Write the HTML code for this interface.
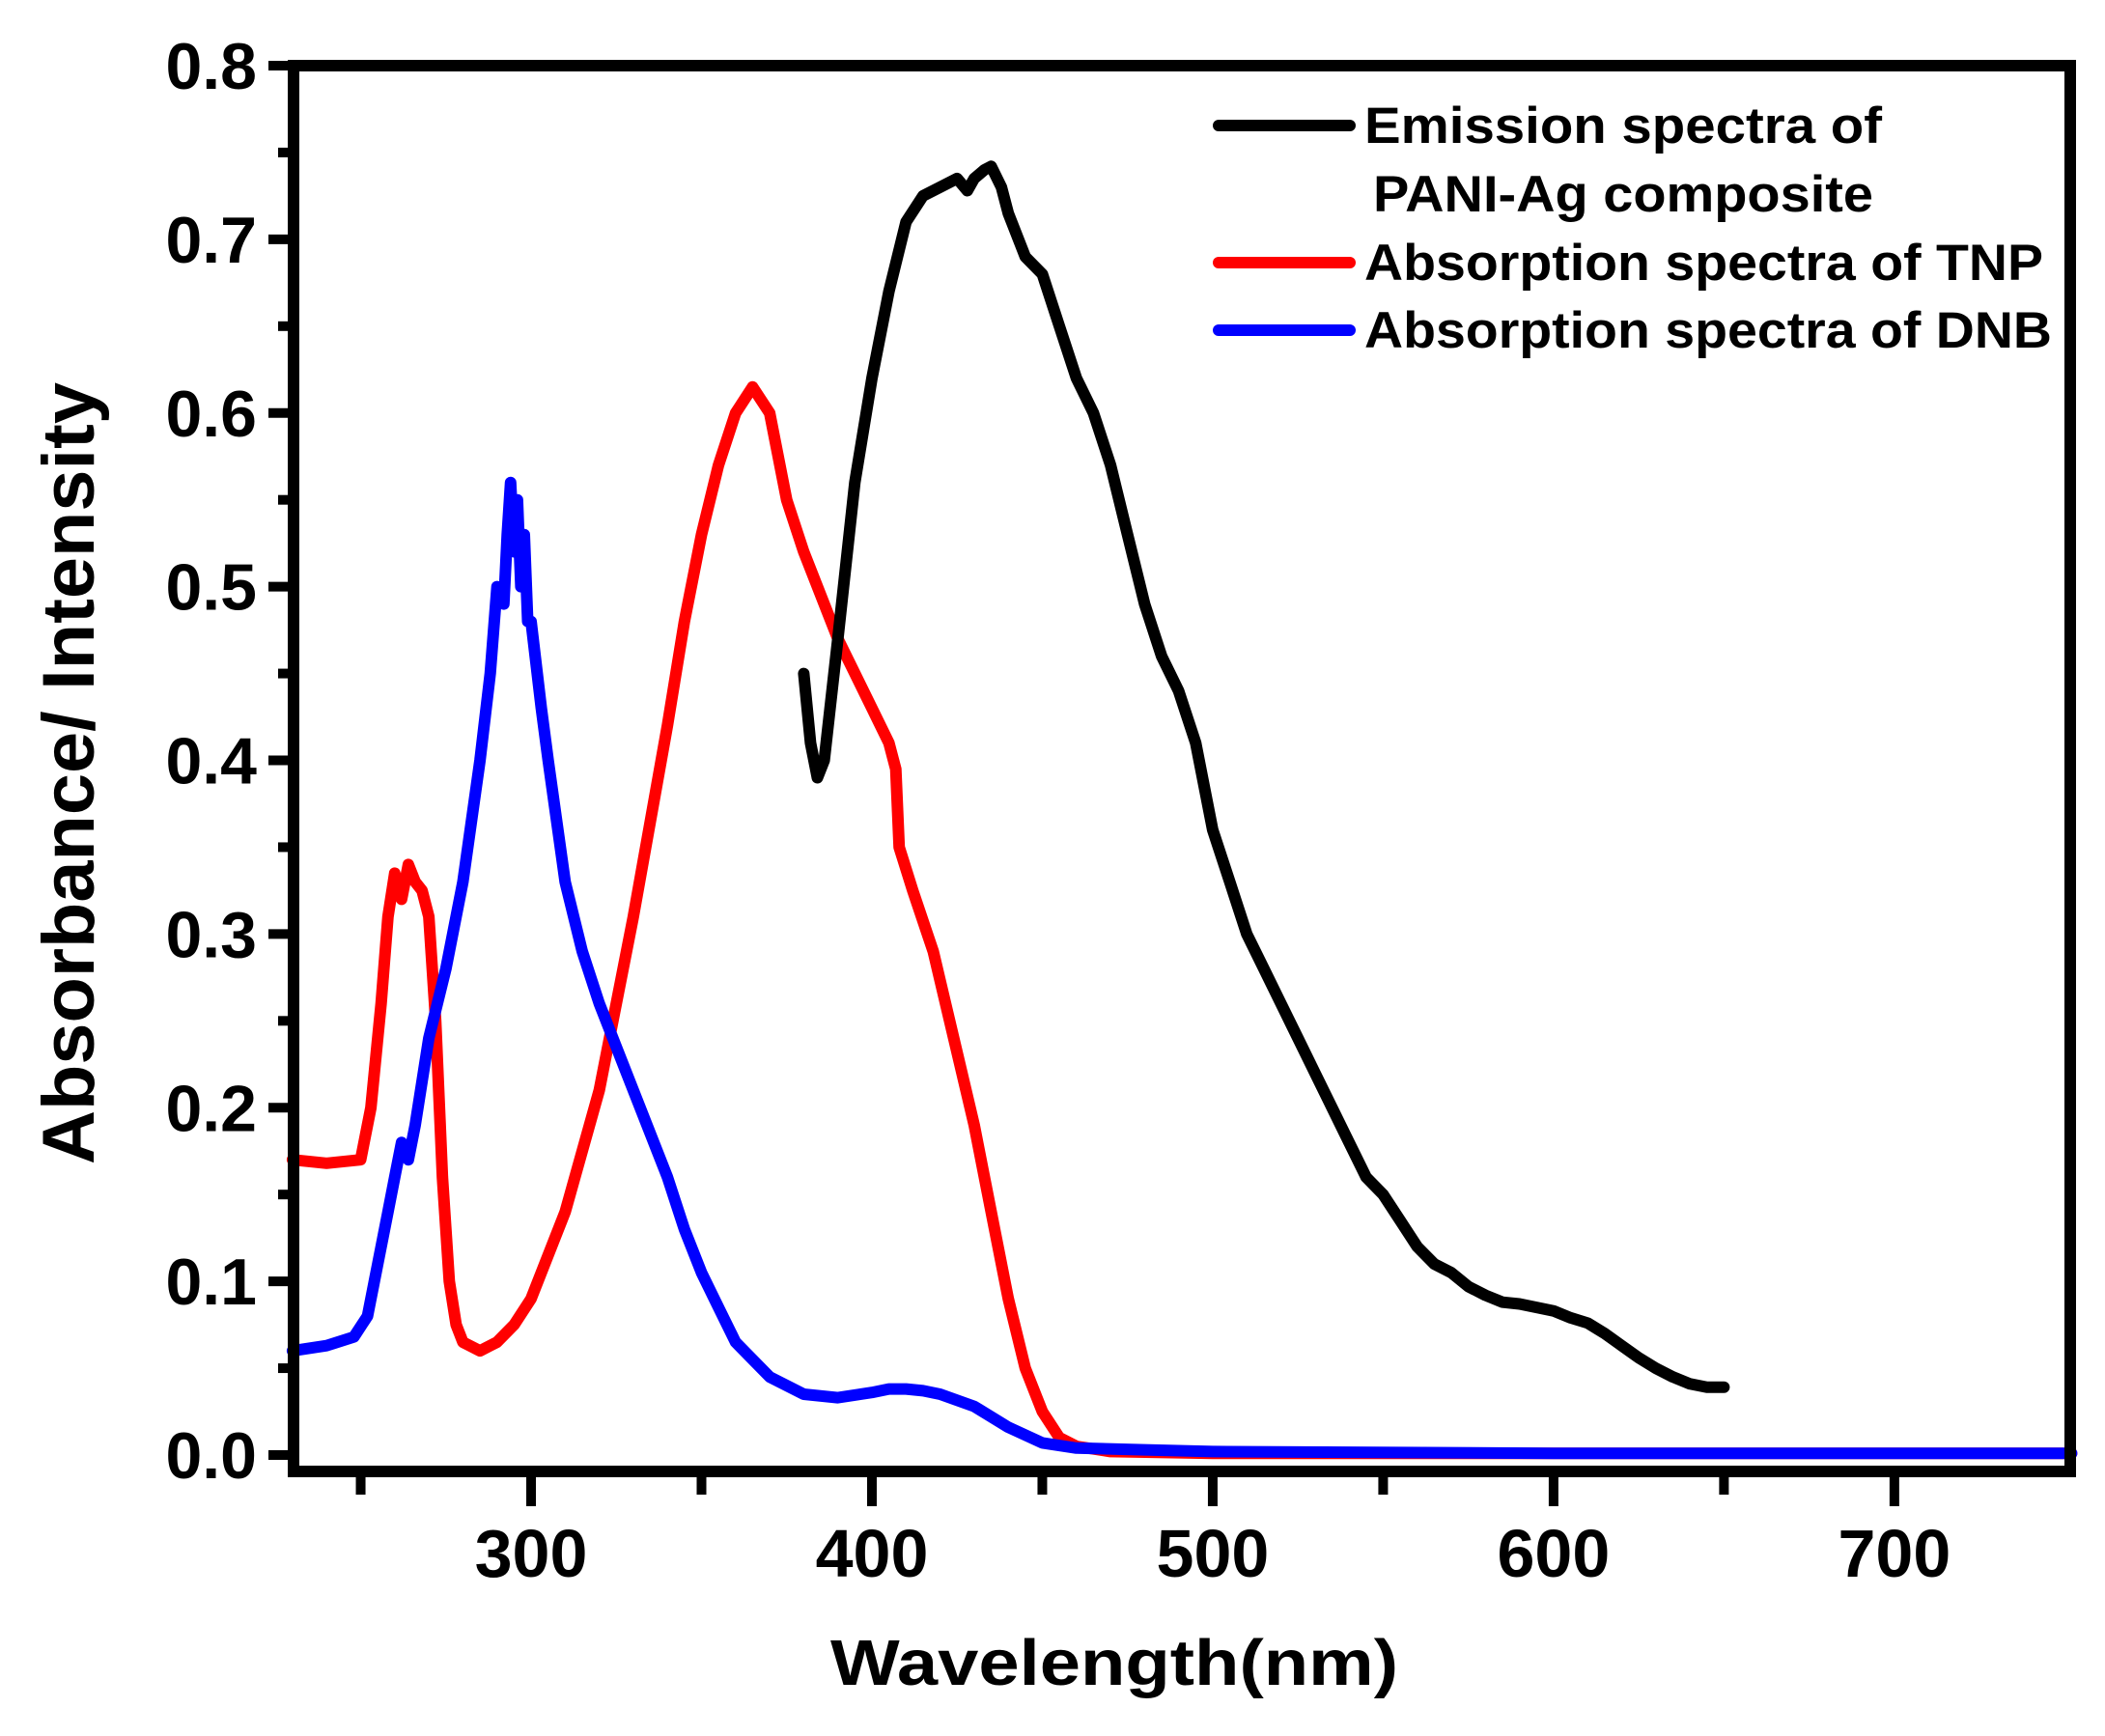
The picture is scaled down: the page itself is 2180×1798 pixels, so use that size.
<!DOCTYPE html>
<html><head><meta charset="utf-8"><style>
html,body{margin:0;padding:0;background:#fff;}
svg{display:block;font-family:"Liberation Sans",Arial,sans-serif;font-weight:bold;}
</style></head><body>
<svg id="chart" width="2180" height="1798" viewBox="0 0 2180 1798" xmlns="http://www.w3.org/2000/svg">
<g id="plot"></g>
<g id="axes"></g>
<text x="1154" y="1745" font-size="67" text-anchor="middle" textLength="588" lengthAdjust="spacingAndGlyphs">Wavelength(nm)</text>
<text transform="translate(97,801) rotate(-90)" font-size="76" text-anchor="middle" textLength="810" lengthAdjust="spacingAndGlyphs">Absorbance/ Intensity</text>
<g>
<g>
<line x1="1262" y1="130" x2="1398" y2="130" stroke="#000" stroke-width="12" stroke-linecap="round"/>
<text x="1413" y="148" font-size="53" textLength="536" lengthAdjust="spacingAndGlyphs">Emission spectra of</text>
<text x="1422" y="219" font-size="53" textLength="518" lengthAdjust="spacingAndGlyphs">PANI-Ag composite</text>
</g>
<g>
<line x1="1262" y1="272" x2="1398" y2="272" stroke="#ff0000" stroke-width="12" stroke-linecap="round"/>
<text x="1413" y="290" font-size="53" textLength="703" lengthAdjust="spacingAndGlyphs">Absorption spectra of TNP</text>
</g>
<g>
<line x1="1262" y1="342" x2="1398" y2="342" stroke="#0000ff" stroke-width="12" stroke-linecap="round"/>
<text x="1413" y="360" font-size="53" textLength="712" lengthAdjust="spacingAndGlyphs">Absorption spectra of DNB</text>
</g>
</g>
</svg>
<script>
const emX=[380,382,384,386,390,395,400,405,410,415,420,425,428,430,433,435,438,440,445,450,455,460,465,470,475,480,485,490,495,500,505,510,515,520,525,530,535,540,545,550,555,560,565,570,575,580,585,590,595,600,605,610,615,620,625,630,635,640,645,650];
const emY=[0.45,0.41,0.39,0.40,0.47,0.56,0.62,0.67,0.71,0.725,0.73,0.735,0.728,0.735,0.74,0.742,0.73,0.715,0.69,0.68,0.65,0.62,0.60,0.57,0.53,0.49,0.46,0.44,0.41,0.36,0.33,0.30,0.28,0.26,0.24,0.22,0.20,0.18,0.16,0.15,0.135,0.12,0.11,0.105,0.097,0.092,0.088,0.087,0.085,0.083,0.079,0.076,0.07,0.063,0.056,0.05,0.045,0.041,0.039,0.039];
const tnpX=[230,240,250,253,256,258,260,262,264,266,268,270,272,274,276,278,280,285,290,295,300,310,320,330,340,345,350,355,360,365,370,375,380,390,400,405,407,408,412,418,424,430,435,440,445,450,455,460,470,500,600,752];
const tnpY=[0.17,0.168,0.17,0.2,0.26,0.31,0.335,0.32,0.34,0.33,0.325,0.31,0.25,0.16,0.1,0.075,0.065,0.06,0.065,0.075,0.09,0.14,0.21,0.31,0.42,0.48,0.53,0.57,0.6,0.615,0.6,0.55,0.52,0.47,0.43,0.41,0.395,0.35,0.325,0.29,0.24,0.19,0.14,0.09,0.05,0.025,0.01,0.005,0.002,0.001,0.001,0.001];
const dnbX=[230,240,248,252,255,258,260,262,264,266,270,275,280,285,288,290,292,293,294,295,296,297,298,299,300,303,305,310,315,320,330,340,345,350,355,360,370,380,390,400,405,410,415,420,430,440,450,460,480,500,600,752];
const dnbY=[0.06,0.063,0.068,0.08,0.11,0.14,0.16,0.18,0.17,0.19,0.24,0.28,0.33,0.40,0.45,0.50,0.49,0.53,0.56,0.52,0.55,0.50,0.53,0.48,0.48,0.43,0.40,0.33,0.29,0.26,0.21,0.16,0.13,0.105,0.085,0.065,0.045,0.035,0.033,0.036,0.038,0.038,0.037,0.035,0.028,0.016,0.007,0.004,0.003,0.002,0.001,0.001];
const yTicks=["0.0","0.1","0.2","0.3","0.4","0.5","0.6","0.7","0.8"];
const xTicks=["300","400","500","600","700"];
const X0=230.3,X1=751.6,PL=304,PR=2144,Y0=0,Y1=0.8,PB=1507,PT=68;
function sx(v){return PL+(v-X0)/(X1-X0)*(PR-PL);}
function sy(v){return PB-(v-Y0)/(Y1-Y0)*(PB-PT);}
const NS="http://www.w3.org/2000/svg";
const plot=document.getElementById('plot');
const axes=document.getElementById('axes');
function series(xs,ys,color,name){
  const p=document.createElementNS(NS,'path');
  let d='';xs.forEach((x,i)=>{d+=(i?'L':'M')+sx(x).toFixed(1)+','+sy(ys[i]).toFixed(1);});
  p.setAttribute('d',d);p.setAttribute('fill','none');p.setAttribute('stroke',color);
  p.setAttribute('stroke-width','12');p.setAttribute('stroke-linejoin','round');p.setAttribute('stroke-linecap','round');
  
  
  plot.appendChild(p);
}
series(tnpX,tnpY,'#ff0000','tnp-absorption-line');
series(dnbX,dnbY,'#0000ff','dnb-absorption-line');
series(emX,emY,'#000000','pani-ag-emission-line');
function ln(x1,y1,x2,y2,w,name){
  const l=document.createElementNS(NS,'line');
  l.setAttribute('x1',x1);l.setAttribute('y1',y1);l.setAttribute('x2',x2);l.setAttribute('y2',y2);
  l.setAttribute('stroke','#000');l.setAttribute('stroke-width',w);
  
  
  axes.appendChild(l);
}
function tx(x,y,s,fs,anchor,name){
  const t=document.createElementNS(NS,'text');
  t.setAttribute('x',x);t.setAttribute('y',y);t.setAttribute('font-size',fs);t.setAttribute('text-anchor',anchor);
  t.textContent=s;
  
  
  axes.appendChild(t);
}
const r=document.createElementNS(NS,'rect');
r.setAttribute('x',PL);r.setAttribute('y',PT);r.setAttribute('width',PR-PL);r.setAttribute('height',1524-PT);
r.setAttribute('fill','none');r.setAttribute('stroke','#000');r.setAttribute('stroke-width','12');


axes.appendChild(r);
yTicks.forEach((s)=>{
  const v=parseFloat(s);const y=sy(v);
  ln(PL-26,y,PL,y,10,'y-major-tick');
  tx(PL-38,y+24,s,68,'end','y-tick-label');
  if(v<0.8){ln(PL-16,sy(v+0.05),PL,sy(v+0.05),10,'y-minor-tick');}
});
xTicks.forEach((s)=>{
  const v=parseFloat(s);const x=sx(v);
  ln(x,1524,x,1560,10,'x-major-tick');
  tx(x,1633,s,70,'middle','x-tick-label');
  ln(sx(v-50),1524,sx(v-50),1548,10,'x-minor-tick');
});
</script>
</body></html>
